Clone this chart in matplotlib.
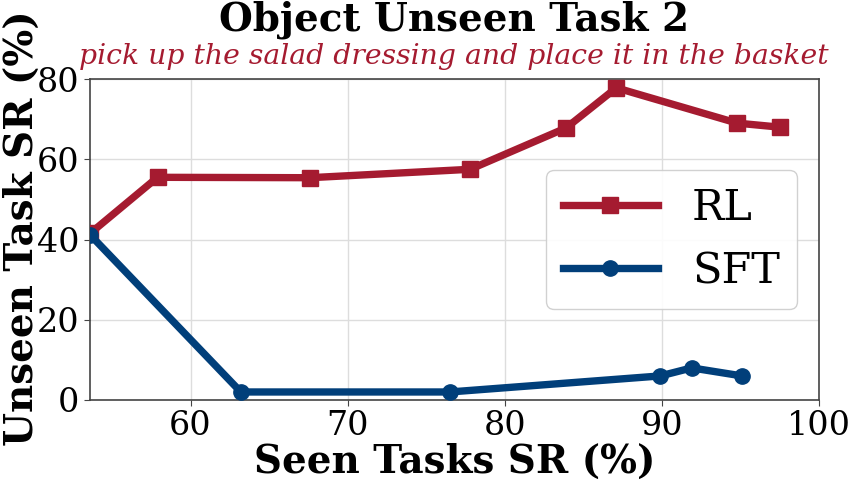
import matplotlib
matplotlib.use("Agg")
import matplotlib.pyplot as plt

plt.rcParams['font.family'] = ['DejaVu Serif']

rl_x = [53.6, 57.9, 67.6, 77.8, 83.9, 87.1, 94.8, 97.5]
rl_y = [41.5, 55.5, 55.4, 57.5, 67.8, 77.8, 69.0, 68.0]
sft_x = [53.6, 63.2, 76.5, 89.9, 91.9, 95.1]
sft_y = [41.2, 2.0, 2.0, 6.0, 8.0, 6.0]
x_ticks = [60, 70, 80, 90, 100]
y_ticks = [0, 20, 40, 60, 80]

red = '#A51B30'
blue = '#013F7A'

fig = plt.figure(figsize=(8.59, 4.84), dpi=100)
ax = fig.add_axes([90/859, 1-400/484, (819-90)/859, (400-79)/484])

ax.plot(rl_x, rl_y, color=red, lw=5.3, marker='s', ms=11.5, label='RL', zorder=3)
ax.plot(sft_x, sft_y, color=blue, lw=5.3, marker='o', ms=11, label='SFT', zorder=3)

ax.set_xlim(53.6, 100)
ax.set_ylim(0, 80)
ax.set_xticks(x_ticks)
ax.set_yticks(y_ticks)
ax.tick_params(labelsize=24, length=4, color='#444444')
ax.grid(True, color='#dddddd', lw=1)
ax.set_axisbelow(True)
for s in ax.spines.values():
    s.set_color('#444444')
    s.set_linewidth(1.2)

ax.set_xlabel('Seen Tasks SR (%)', fontsize=28, fontweight='bold', labelpad=0)
ax.set_ylabel('Unseen Task SR (%)', fontsize=28, fontweight='bold', labelpad=0)
ax.yaxis.set_label_coords(-0.068, 0.535)

leg = ax.legend(fontsize=31, loc='center right', bbox_to_anchor=(0.97, 0.5),
                borderaxespad=0, framealpha=0.9, edgecolor='#cccccc', handlelength=2.2,
                borderpad=0.4, labelspacing=0.5, handletextpad=0.8)

fig.text(454/859, 1-20/484, 'Object Unseen Task 2', ha='center', va='center',
         fontsize=28, fontweight='bold')
fig.text(454/859, 1-57/484, 'pick up the salad dressing and place it in the basket',
         ha='center', va='center', fontsize=20.3, style='italic', color=red)

fig.savefig('out.png', dpi=100)
